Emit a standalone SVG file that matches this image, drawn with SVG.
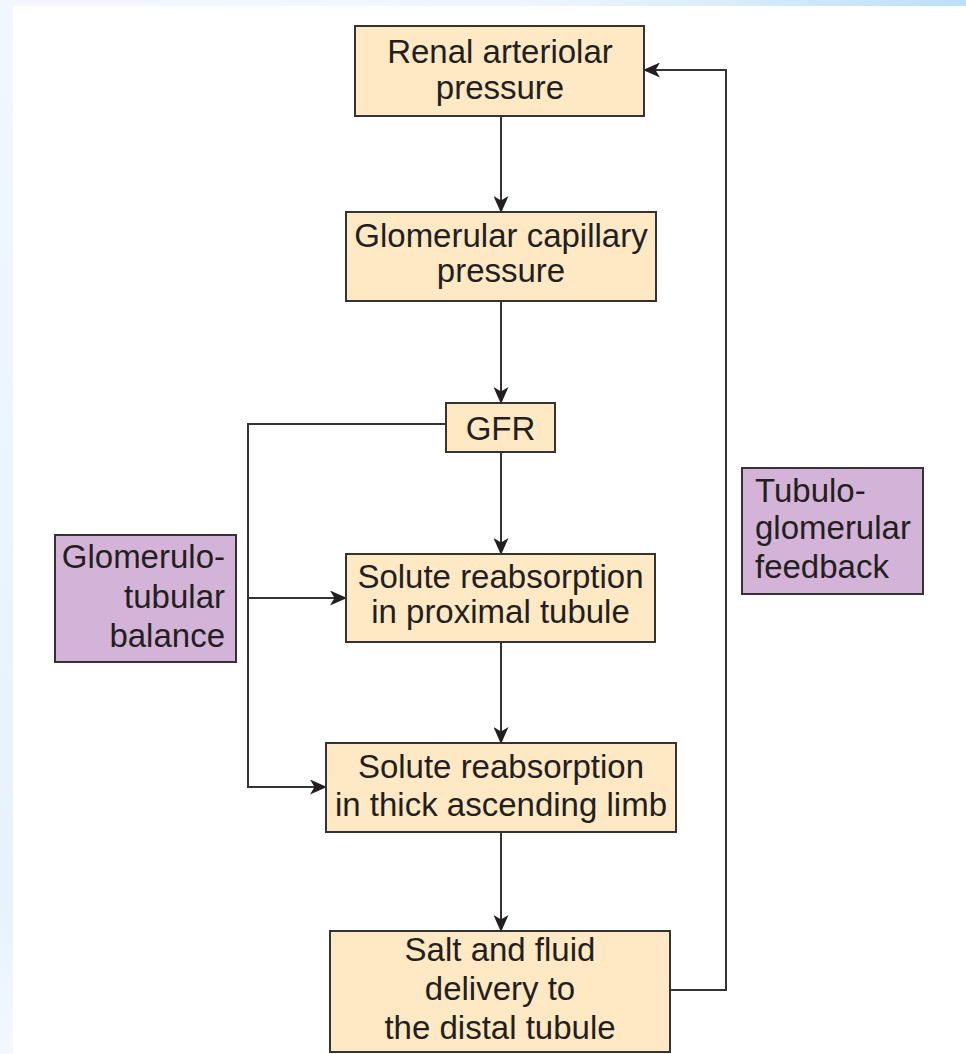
<svg xmlns="http://www.w3.org/2000/svg" width="966" height="1054" viewBox="0 0 966 1054">
<defs>
<linearGradient id="topg" x1="0" y1="0" x2="1" y2="0">
<stop offset="0" stop-color="#f2f7fd"/>
<stop offset="0.55" stop-color="#eef6fe"/>
<stop offset="1" stop-color="#bcdff8"/>
</linearGradient>
<linearGradient id="leftg" x1="0" y1="0" x2="0" y2="1">
<stop offset="0" stop-color="#f2f7fd"/>
<stop offset="0.85" stop-color="#e8f2fc"/>
<stop offset="1" stop-color="#f4f8fd"/>
</linearGradient>
<marker id="ah" markerWidth="17" markerHeight="15" refX="16" refY="7.5" orient="auto" markerUnits="userSpaceOnUse">
<path d="M0,0 L17,7.5 L0,15 L4.5,7.5 Z" fill="#231f20"/>
</marker>
<style>
.box{fill:#ffe8c4;stroke:#333333;stroke-width:2}
.pbox{fill:#d4b3d8;stroke:#333333;stroke-width:2}
.t{font-family:"Liberation Sans",Arial,sans-serif;font-size:33px;fill:#231f20}
.c{text-anchor:middle}
.r{text-anchor:end}
.l{text-anchor:start}
.ln{fill:none;stroke:#333333;stroke-width:2}
</style>
</defs>
<rect x="0" y="0" width="966" height="1054" fill="#ffffff"/>
<rect x="0" y="0" width="13" height="1054" fill="url(#leftg)"/>
<rect x="0" y="0" width="966" height="6" fill="url(#topg)"/>

<g id="connectors">
<line class="ln" x1="501" y1="116" x2="501" y2="212" marker-end="url(#ah)"/>
<line class="ln" x1="501" y1="301" x2="501" y2="403" marker-end="url(#ah)"/>
<line class="ln" x1="501" y1="452" x2="501" y2="554" marker-end="url(#ah)"/>
<line class="ln" x1="501" y1="642" x2="501" y2="743" marker-end="url(#ah)"/>
<line class="ln" x1="501" y1="832" x2="501" y2="931" marker-end="url(#ah)"/>
<polyline class="ln" points="446,424 248,424 248,787 326,787" marker-end="url(#ah)"/>
<line class="ln" x1="248" y1="598" x2="346" y2="598" marker-end="url(#ah)"/>
<polyline class="ln" points="670,990 726,990 726,70 644,70" marker-end="url(#ah)"/>
</g>

<g id="renal">
<rect class="box" x="355" y="26" width="289" height="90"/>
<text class="t c" x="500" y="63">Renal arteriolar</text>
<text class="t c" x="500" y="99">pressure</text>
</g>
<g id="glomcap">
<rect class="box" x="346" y="212" width="310" height="89"/>
<text class="t c" x="501" y="247">Glomerular capillary</text>
<text class="t c" x="501" y="282">pressure</text>
</g>
<g id="gfr">
<rect class="box" x="446" y="403" width="109" height="49"/>
<text class="t c" x="500.5" y="440">GFR</text>
</g>
<g id="proximal">
<rect class="box" x="346" y="554" width="309" height="88"/>
<text class="t c" x="500.5" y="588">Solute reabsorption</text>
<text class="t c" x="500.5" y="623">in proximal tubule</text>
</g>
<g id="thick">
<rect class="box" x="326" y="743" width="350" height="89"/>
<text class="t c" x="501" y="778">Solute reabsorption</text>
<text class="t c" x="501" y="816">in thick ascending limb</text>
</g>
<g id="salt">
<rect class="box" x="330" y="931" width="340" height="121"/>
<text class="t c" x="500" y="961">Salt and fluid</text>
<text class="t c" x="500" y="1000">delivery to</text>
<text class="t c" x="500" y="1039">the distal tubule</text>
</g>
<g id="gtbalance">
<rect class="pbox" x="55" y="535" width="181" height="127"/>
<text class="t r" x="225" y="568">Glomerulo-</text>
<text class="t r" x="225" y="608">tubular</text>
<text class="t r" x="225" y="647">balance</text>
</g>
<g id="tgfeedback">
<rect class="pbox" x="742" y="468" width="181" height="126"/>
<text class="t l" x="755" y="502">Tubulo-</text>
<text class="t l" x="755" y="539">glomerular</text>
<text class="t l" x="755" y="578">feedback</text>
</g>
</svg>
